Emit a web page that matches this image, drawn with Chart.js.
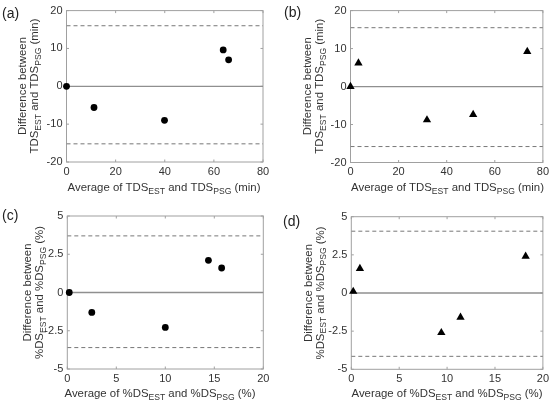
<!DOCTYPE html>
<html><head><meta charset="utf-8">
<script src="https://cdn.jsdelivr.net/npm/chart.js@4"></script>
<style>
body{margin:0;background:#fff;width:552px;height:400px;position:relative;overflow:hidden}
.p{position:absolute;width:276px;height:200px}
canvas{display:block}
</style></head><body>
<div class="p" style="left:0;top:0"><canvas id="ca" width="276" height="200"></canvas></div>
<div class="p" style="left:276px;top:0"><canvas id="cb" width="276" height="200"></canvas></div>
<div class="p" style="left:0;top:200px"><canvas id="cc" width="276" height="200"></canvas></div>
<div class="p" style="left:276px;top:200px"><canvas id="cd" width="276" height="200"></canvas></div>
<script>
// ---- data ----
const panelTags = ['(a)', '(b)', '(c)', '(d)'];
const tdsXTicks = [0, 20, 40, 60, 80];
const tdsYTicks = [-20, -10, 0, 10, 20];
const pctXTicks = [0, 5, 10, 15, 20];
const pctYTicks = [-5, -2.5, 0, 2.5, 5];

const aAvg  = [0, 11.2, 39.9, 63.8, 66.0];
const aDiff = [0, -5.6, -9.0, 9.6, 7.0];
const aLoA  = [16.0, -15.2];

const bAvg  = [0, 3.3, 31.8, 51.0, 73.5];
const bDiff = [0, 6.2, -8.8, -7.4, 9.2];
const bLoA  = [15.5, -15.8];

const cAvg  = [0.2, 2.5, 10.0, 14.4, 15.75];
const cDiff = [0, -1.3, -2.28, 2.1, 1.6];
const cLoA  = [3.7, -3.6];

const dAvg  = [0.2, 0.9, 9.4, 11.4, 18.2];
const dDiff = [0.1, 1.6, -2.6, -1.6, 2.4];
const dLoA  = [4.05, -4.15];

const tdsXTitle = ['Average of TDS', {s:'EST'}, ' and TDS', {s:'PSG'}, ' (min)'];
const tdsYTitle2 = ['TDS', {s:'EST'}, ' and TDS', {s:'PSG'}, ' (min)'];
const pctXTitle = ['Average of %DS', {s:'EST'}, ' and %DS', {s:'PSG'}, ' (%)'];
const pctYTitle2 = ['%DS', {s:'EST'}, ' and %DS', {s:'PSG'}, ' (%)'];
const yTitle1 = ['Difference between'];

// ---- drawing helpers ----
const FONT = '"Liberation Sans", Arial, sans-serif';
const TITLE_SIZE = 11.4, SUB_SIZE = 8.6;
function richWidth(ctx, parts){
  let w = 0;
  for (const p of parts){
    if (typeof p === 'string'){ ctx.font = TITLE_SIZE + 'px ' + FONT; w += ctx.measureText(p).width; }
    else { ctx.font = SUB_SIZE + 'px ' + FONT; w += ctx.measureText(p.s).width; }
  }
  return w;
}
function drawRich(ctx, parts, cx, cy){
  const w = richWidth(ctx, parts);
  let x = cx - w/2;
  ctx.textAlign = 'left'; ctx.textBaseline = 'middle';
  for (const p of parts){
    if (typeof p === 'string'){
      ctx.font = TITLE_SIZE + 'px ' + FONT; ctx.fillText(p, x, cy); x += ctx.measureText(p).width;
    } else {
      ctx.font = SUB_SIZE + 'px ' + FONT; ctx.fillText(p.s, x, cy + 3.3); x += ctx.measureText(p.s).width;
    }
  }
}

function makePanel(id, cfg){
  const W = 276, H = 200, f = cfg.frame;
  const xmin = cfg.xTicks[0], xmax = cfg.xTicks[cfg.xTicks.length-1];
  const ymin = cfg.yTicks[0], ymax = cfg.yTicks[cfg.yTicks.length-1];
  const hline = v => [{x:xmin, y:v}, {x:xmax, y:v}];
  const deco = {
    id: 'deco',
    beforeDatasetsDraw(chart){
      const ctx = chart.ctx, a = chart.chartArea, sx = chart.scales.x, sy = chart.scales.y;
      ctx.save();
      ctx.strokeStyle = '#a0a0a0'; ctx.lineWidth = 1;
      ctx.strokeRect(a.left, a.top, a.right - a.left, a.bottom - a.top);
      ctx.beginPath();
      for (const v of cfg.xTicks){
        const px = sx.getPixelForValue(v);
        ctx.moveTo(px, a.bottom); ctx.lineTo(px, a.bottom - 2.5);
        ctx.moveTo(px, a.top); ctx.lineTo(px, a.top + 2.5);
      }
      for (const v of cfg.yTicks){
        const py = sy.getPixelForValue(v);
        ctx.moveTo(a.left, py); ctx.lineTo(a.left + 2.5, py);
        ctx.moveTo(a.right, py); ctx.lineTo(a.right - 2.5, py);
      }
      ctx.stroke();
      ctx.restore();
    },
    afterDraw(chart){
      const ctx = chart.ctx;
      ctx.save();
      ctx.fillStyle = '#333';
      drawRich(ctx, cfg.xTitle, cfg.xTitleX, cfg.xTitleY);
      const cy = (f.top + f.bottom)/2;
      ctx.translate(0, cy);
      ctx.rotate(-Math.PI/2);
      drawRich(ctx, yTitle1, 0, cfg.yTitleX[0]);
      drawRich(ctx, cfg.yTitle2, 0, cfg.yTitleX[1]);
      ctx.restore();
      ctx.save();
      ctx.fillStyle = '#222';
      ctx.font = '14px ' + FONT;
      ctx.textAlign = 'left'; ctx.textBaseline = 'middle';
      ctx.fillText(cfg.tag, cfg.tagPos[0], cfg.tagPos[1]);
      ctx.restore();
    }
  };
  const tickFont = {family: FONT, size: 11};
  new Chart(document.getElementById(id), {
    type: 'scatter',
    data: { datasets: [
      { data: cfg.x.map((v,i)=>({x:v, y:cfg.y[i]})), pointStyle: cfg.marker,
        pointRadius: cfg.marker === 'triangle' ? 4.8 : 3.4,
        backgroundColor: '#000', borderColor: '#000', borderWidth: 0, clip: false, order: 0 },
      { type: 'line', data: hline(0), borderColor: '#8f8f8f', borderWidth: 1.3, pointRadius: 0, order: 3 },
      { type: 'line', data: hline(cfg.loa[0]), borderColor: '#777', borderWidth: 1, borderDash: [4,3], pointRadius: 0, order: 2 },
      { type: 'line', data: hline(cfg.loa[1]), borderColor: '#777', borderWidth: 1, borderDash: [4,3], pointRadius: 0, order: 2 }
    ]},
    options: {
      responsive: false, animation: false, events: [],
      plugins: { legend: {display:false}, tooltip: {enabled:false} },
      layout: { padding: { left: 0, right: W - f.right, top: f.top, bottom: 0 } },
      scales: {
        x: { type: 'linear', min: xmin, max: xmax,
             afterBuildTicks: s => { s.ticks = cfg.xTicks.map(v => ({value: v})); },
             ticks: { font: tickFont, color: '#333', padding: 3, maxRotation: 0, autoSkip: false, callback: v => String(v) },
             grid: { display: false, drawTicks: false }, border: { display: false },
             afterFit: s => { s.height = H - f.bottom; } },
        y: { type: 'linear', min: ymin, max: ymax,
             afterBuildTicks: s => { s.ticks = cfg.yTicks.map(v => ({value: v})); },
             ticks: { font: tickFont, color: '#333', padding: 4, autoSkip: false, callback: v => String(v) },
             grid: { display: false, drawTicks: false }, border: { display: false },
             afterFit: s => { s.width = f.left; } }
      }
    },
    plugins: [deco]
  });
}

makePanel('ca', { x: aAvg, y: aDiff, loa: aLoA, marker: 'circle', xTicks: tdsXTicks, yTicks: tdsYTicks,
  frame: {left: 66.5, right: 263, top: 10, bottom: 162}, xTitle: tdsXTitle, xTitleX: 164, xTitleY: 188,
  yTitle2: tdsYTitle2, yTitleX: [22.5, 35], tag: panelTags[0], tagPos: [2, 14] });
makePanel('cb', { x: bAvg, y: bDiff, loa: bLoA, marker: 'triangle', xTicks: tdsXTicks, yTicks: tdsYTicks,
  frame: {left: 74.5, right: 270, top: 10, bottom: 162.5}, xTitle: tdsXTitle, xTitleX: 171.5, xTitleY: 188,
  yTitle2: tdsYTitle2, yTitleX: [31.5, 44], tag: panelTags[1], tagPos: [8, 13] });
makePanel('cc', { x: cAvg, y: cDiff, loa: cLoA, marker: 'circle', xTicks: pctXTicks, yTicks: pctYTicks,
  frame: {left: 67.3, right: 263.3, top: 16, bottom: 169}, xTitle: pctXTitle, xTitleX: 160, xTitleY: 194,
  yTitle2: pctYTitle2, yTitleX: [28, 40], tag: panelTags[2], tagPos: [2, 16] });
makePanel('cd', { x: dAvg, y: dDiff, loa: dLoA, marker: 'triangle', xTicks: pctXTicks, yTicks: pctYTicks,
  frame: {left: 75.3, right: 270.7, top: 16.7, bottom: 169.3}, xTitle: pctXTitle, xTitleX: 171, xTitleY: 194,
  yTitle2: pctYTitle2, yTitleX: [33, 44.5], tag: panelTags[3], tagPos: [7, 22] });
</script>
</body></html>
